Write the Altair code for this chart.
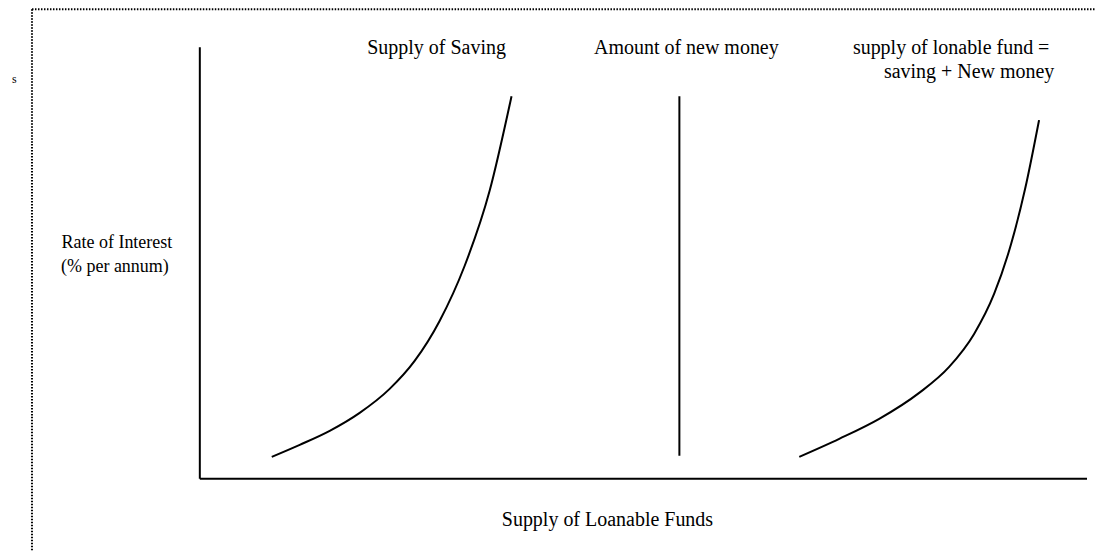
import altair as alt
import pandas as pd

# Curve data (x = quantity of funds, y = rate of interest), in chart units
saving_x = [72, 100, 130, 160, 190, 215, 240, 265, 290, 312]
saving_y = [22, 34, 48, 66, 90, 118, 158, 213, 288, 383]

money_x = [480, 480]
money_y = [23, 383]

lonable_x = [600, 640, 680, 720, 750, 775, 795, 812, 826, 840]
lonable_y = [22, 40, 60, 86, 112, 145, 185, 235, 290, 359]

# Labels
top_text = ["Supply of Saving", "Amount of new money", "supply of lonable fund =",
            "saving + New money", "Supply of Loanable Funds"]
top_x = [237, 487, 752, 770, 408]
top_y = [431, 431, 431, 407, -41]

side_text = ["Rate of Interest", "(% per annum)"]
side_x = [-83, -85]
side_y = [236, 212]

X_DOMAIN = [-192, 897]
Y_DOMAIN = [-72, 470]
W, H = 1089, 542

xs = alt.Scale(domain=X_DOMAIN, nice=False, zero=False)
ys = alt.Scale(domain=Y_DOMAIN, nice=False, zero=False)

def curve(xv, yv, name):
    return pd.DataFrame({"x": xv, "y": yv, "i": list(range(len(xv))), "s": name})

curves = pd.concat([
    curve(saving_x, saving_y, "saving"),
    curve(money_x, money_y, "money"),
    curve(lonable_x, lonable_y, "lonable"),
])

lines = alt.Chart(curves).mark_line(color="black", strokeWidth=2, interpolate="monotone").encode(
    x=alt.X("x:Q", scale=xs, axis=None),
    y=alt.Y("y:Q", scale=ys, axis=None),
    detail="s:N",
    order="i:Q",
)

axes_df = pd.DataFrame({"x": [0, 0], "y": [0, 0], "x2": [0, 888], "y2": [432, 0]})
axes = alt.Chart(axes_df).mark_rule(color="black", strokeWidth=2).encode(
    x=alt.X("x:Q", scale=xs, axis=None), x2="x2:Q",
    y=alt.Y("y:Q", scale=ys, axis=None), y2="y2:Q",
)

border_df = pd.DataFrame({"x": [-168, -168], "y": [470, 470], "x2": [-168, 897], "y2": [-72, 470]})
border = alt.Chart(border_df).mark_rule(color="black", strokeWidth=2, strokeDash=[1.5, 1.5]).encode(
    x=alt.X("x:Q", scale=xs, axis=None), x2="x2:Q",
    y=alt.Y("y:Q", scale=ys, axis=None), y2="y2:Q",
)

top_df = pd.DataFrame({"t": top_text, "x": top_x, "y": top_y})
top_labels = alt.Chart(top_df).mark_text(
    font="Liberation Serif", fontSize=20, color="black", align="center", baseline="middle"
).encode(
    x=alt.X("x:Q", scale=xs, axis=None),
    y=alt.Y("y:Q", scale=ys, axis=None),
    text="t:N",
)

side_df = pd.DataFrame({"t": side_text, "x": side_x, "y": side_y})
side_labels = alt.Chart(side_df).mark_text(
    font="Liberation Serif", fontSize=18, color="black", align="center", baseline="middle"
).encode(
    x=alt.X("x:Q", scale=xs, axis=None),
    y=alt.Y("y:Q", scale=ys, axis=None),
    text="t:N",
)

s_df = pd.DataFrame({"t": ["s"], "x": [-188], "y": [400]})
s_label = alt.Chart(s_df).mark_text(
    font="Liberation Serif", fontSize=12, color="black", align="left", baseline="middle"
).encode(
    x=alt.X("x:Q", scale=xs, axis=None),
    y=alt.Y("y:Q", scale=ys, axis=None),
    text="t:N",
)

chart = alt.layer(border, axes, lines, top_labels, side_labels, s_label).properties(
    width=W, height=H, padding=0, background="white"
).configure_view(stroke=None)

chart.save("out.html", embed_options={"renderer": "svg", "actions": False})
